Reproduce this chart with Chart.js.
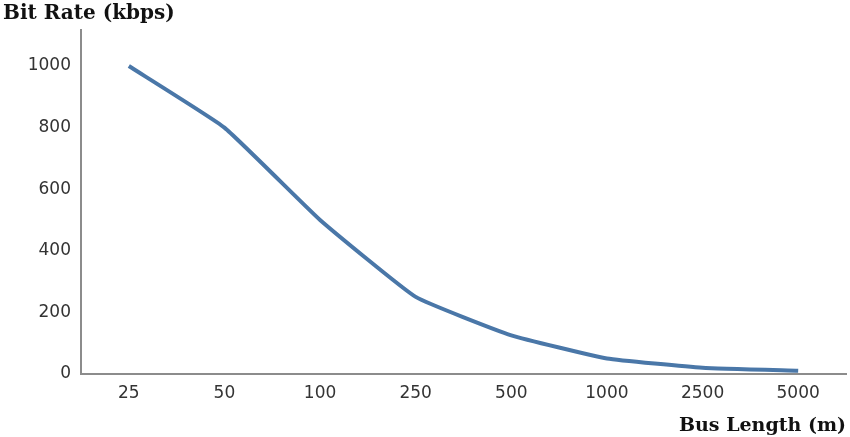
<!DOCTYPE html>
<html>
<head>
<meta charset="utf-8">
<script src="https://cdn.jsdelivr.net/npm/chart.js@4/dist/chart.umd.min.js"></script>
<style>
  html, body { margin: 0; padding: 0; background: #fff; }
  #wrap { width: 850px; height: 437px; position: relative; }
</style>
</head>
<body>
<div id="wrap"><canvas id="rateChart"></canvas></div>
<script>
// bus length categories (m) and bit rate (kbps)
const busLengths = ['25', '50', '100', '250', '500', '1000', '2500', '5000'];
const bitRates = [1000, 800, 500, 250, 125, 50, 20, 10];
const yTicks = [0, 200, 400, 600, 800, 1000];

const ctx = document.getElementById('rateChart').getContext('2d');

new Chart(ctx, {
    type: 'line',
    data: {
        labels: busLengths,
        datasets: [{
            label: 'Bit Rate',
            data: bitRates,
            borderColor: '#4a77a8',
            borderWidth: 4,
            tension: 0.12,
            pointRadius: 0,
            fill: false
        }]
    },
    options: {
        responsive: true,
        maintainAspectRatio: false,
        animation: false,
        layout: { padding: { left: 3, right: 4, top: 0, bottom: 0 } },
        scales: {
            x: {
                offset: true,
                grid: { display: false, drawTicks: false },
                border: { display: true, color: '#8c8c8c', width: 2 },
                ticks: {
                    padding: 10,
                    color: '#333',
                    font: { family: 'DejaVu Sans', size: 17 }
                },
                title: {
                    display: true,
                    text: 'Bus Length (m)',
                    align: 'end',
                    color: '#111',
                    font: { family: 'DejaVu Serif', size: 19, weight: 'bold' },
                    padding: { top: 0, bottom: 0 }
                }
            },
            y: {
                min: 0,
                max: 1117,
                grid: { display: false, drawTicks: false },
                border: { display: true, color: '#8c8c8c', width: 2 },
                ticks: {
                    stepSize: 200,
                    padding: 10,
                    color: '#333',
                    font: { family: 'DejaVu Sans', size: 17 },
                    callback: function(value) {
                        return String(value);
                    }
                },
                afterBuildTicks: function(scale) {
                    scale.ticks = yTicks.map(v => ({ value: v }));
                },
                afterFit: function(scale) {
                    scale.width = 78;
                }
            }
        },
        plugins: {
            legend: { display: false },
            tooltip: { enabled: false },
            title: {
                display: true,
                text: 'Bit Rate (kbps)',
                align: 'start',
                color: '#111',
                font: { family: 'DejaVu Serif', size: 20, weight: 'bold' },
                padding: { top: 2, bottom: 4 }
            }
        }
    }
});
</script>
</body>
</html>
